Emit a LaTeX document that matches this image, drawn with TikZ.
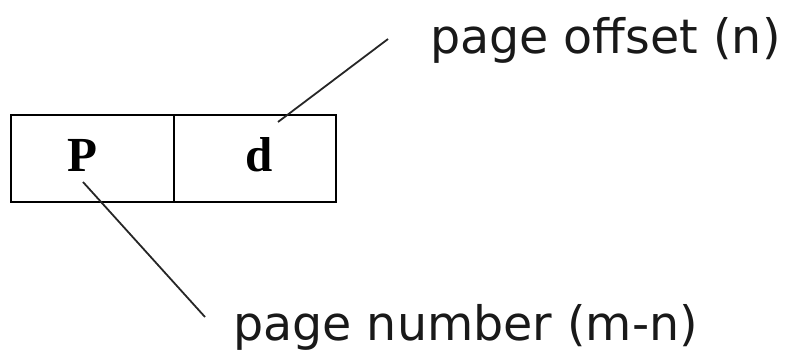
\documentclass[tikz,border=0pt]{standalone}
\usepackage{fontspec}
\setmainfont{DejaVu Sans}
\newfontfamily\boxfont{Liberation Serif}
\begin{document}
\begin{tikzpicture}[x=1pt,y=-1pt,
  cell/.style={draw=black, line width=2pt, minimum width=163pt, minimum height=87pt, inner sep=0pt, anchor=north west},
  cellletter/.style={font=\boxfont\bfseries\fontsize{49}{49}\selectfont, anchor=base, inner sep=0pt},
  lbl/.style={font=\fontsize{47.5}{50}\selectfont, anchor=base west, inner sep=0pt, text=black!90},
  leader/.style={draw=black!85, line width=1.8pt}]
\useasboundingbox (0,0) rectangle (788,351);
\node[cell] (pbox) at (10,114) {};
\node[cell, minimum width=162pt] (dbox) at (173,114) {};
\node[cellletter] (P) at (82,171) {P};
\node[cellletter] (d) at (259,171) {d};
\node[lbl] (off) at (430,53) {page offset (n)};
\node[lbl] (num) at (233,340) {page number (m-n)};
\coordinate (offA) at (278,122);
\coordinate (offB) at (388,39);
\coordinate (numA) at (83,182);
\coordinate (numB) at (205,317);
\draw[leader] (offA) -- (offB);
\draw[leader] (numA) -- (numB);
\end{tikzpicture}
\end{document}
